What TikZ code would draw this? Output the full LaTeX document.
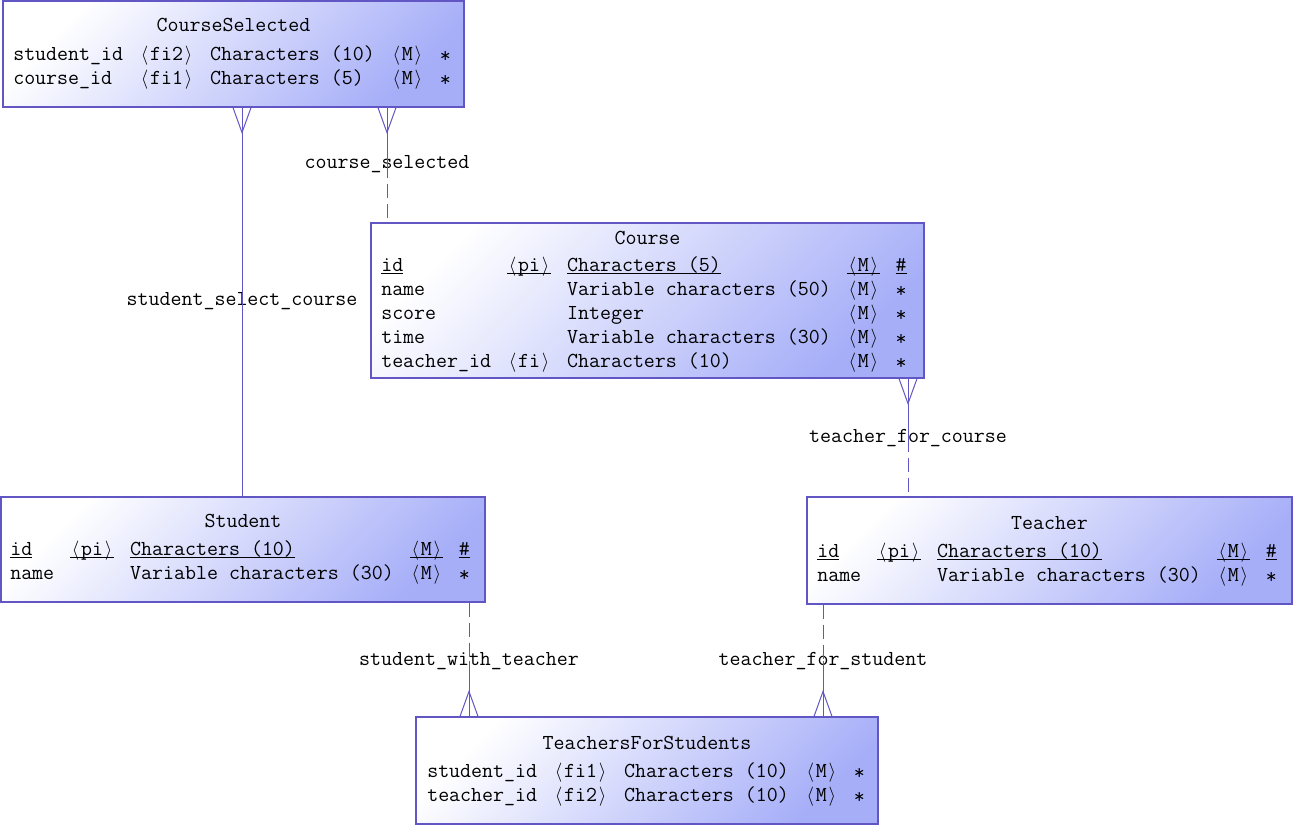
\documentclass[tikz,border=0pt]{standalone}
\usepackage{fontspec}
\usepackage{array}
\definecolor{erline}{RGB}{98,86,196}
\definecolor{erfill}{RGB}{166,174,248}
\setlength\tabcolsep{6pt}
\newcommand\onech[1]{\makebox[\fontcharwd\font`\M]{#1}}
\newcommand\flag[1]{\onech{\fontsize{15}{15}\selectfont$\langle$}#1\onech{\fontsize{15}{15}\selectfont$\rangle$}}
\newcommand\pkey[1]{\underline{\smash{#1}}}
\newcommand\req{\onech{\raisebox{-0.12em}{*}}}
\tikzset{
	entity/.style={draw=erline, line width=0.9pt, top color=white, bottom color=erfill, shading angle=45, inner sep=0pt},
	title/.style={anchor=base, inner sep=0pt, font=\fontsize{16}{18}\selectfont\ttfamily},
	cols/.style={anchor=base west, inner sep=0pt, font=\fontsize{16}{18}\selectfont\ttfamily},
	rel/.style={draw=erline, line width=0.75pt},
	optional/.style={rel, dash pattern=on 10.5pt off 4.5pt},
	rellabel/.style={anchor=base, inner sep=0pt, font=\fontsize{16}{18}\selectfont\ttfamily}
}

\begin{document}
\begin{tikzpicture}[x=0.75pt,y=-0.75pt]
				\useasboundingbox (0,0) rectangle (1294,826);
				\node[entity, minimum width=345.75pt, minimum height=79.5pt] (courseSel) at (233.5,54) {};
				\node[title] (courseSel-title) at (233.5,31) {CourseSelected};
				\node[cols] (courseSel-cols) at (13,60) {\begin{tabular}[t]{@{}lllll@{}}
						student\_id & \flag{fi2} & Characters (10) & \flag{M} & \req\\
						course\_id & \flag{fi1} & Characters (5) & \flag{M} & \req
					\end{tabular}};

				\node[entity, minimum width=414.75pt, minimum height=116.25pt] (course) at (647.5,300.5) {};
				\node[title] (course-title) at (647.5,244) {Course};
				\node[cols] (course-cols) at (381,271) {\begin{tabular}[t]{@{}lllll@{}}
						\pkey{id} & \pkey{\flag{pi}} & \pkey{Characters (5)} & \pkey{\flag{M}} & \pkey{\#}\\
						name & & Variable characters (50) & \flag{M} & \req\\
						score & & Integer & \flag{M} & \req\\
						time & & Variable characters (30) & \flag{M} & \req\\
						teacher\_id & \flag{fi} & Characters (10) & \flag{M} & \req
					\end{tabular}};

				\node[entity, minimum width=363pt, minimum height=78.75pt] (student) at (243,549.5) {};
				\node[title] (student-title) at (243,527) {Student};
				\node[cols] (student-cols) at (10,555) {\begin{tabular}[t]{@{}lllll@{}}
						\pkey{id} & \pkey{\flag{pi}} & \pkey{Characters (10)} & \pkey{\flag{M}} & \pkey{\#}\\
						name & & Variable characters (30) & \flag{M} & \req
					\end{tabular}};

				\node[entity, minimum width=363.75pt, minimum height=80.25pt] (teacher) at (1049.5,550.5) {};
				\node[title] (teacher-title) at (1049.5,529) {Teacher};
				\node[cols] (teacher-cols) at (817,557) {\begin{tabular}[t]{@{}lllll@{}}
						\pkey{id} & \pkey{\flag{pi}} & \pkey{Characters (10)} & \pkey{\flag{M}} & \pkey{\#}\\
						name & & Variable characters (30) & \flag{M} & \req
					\end{tabular}};

				\node[entity, minimum width=346.5pt, minimum height=80.25pt] (teachStu) at (647,770.5) {};
				\node[title] (teachStu-title) at (647,749) {TeachersForStudents};
				\node[cols] (teachStu-cols) at (427,777) {\begin{tabular}[t]{@{}lllll@{}}
						student\_id & \flag{fi1} & Characters (10) & \flag{M} & \req\\
						teacher\_id & \flag{fi2} & Characters (10) & \flag{M} & \req
					\end{tabular}};

				\node[rellabel] (ssc) at (242,305) {student\_select\_course};
				\node[rellabel] (csel) at (387,168) {course\_selected};
				\node[rellabel] (tfc) at (908,442) {teacher\_for\_course};
				\node[rellabel] (swt) at (469,665) {student\_with\_teacher};
				\node[rellabel] (tfs) at (823,665) {teacher\_for\_student};

				\coordinate (ssc-a) at (courseSel.south -| ssc);
				\coordinate (ssc-b) at (student.north -| ssc);
				\draw[rel] (ssc-a) -- (ssc-b);
				\draw[rel] (ssc-a) ++(-9,0) -- ++(9,25) -- ++(9,-25);

				\coordinate (csel-a) at (courseSel.south -| csel);
				\coordinate (csel-b) at (course.north -| csel);
				\draw[rel] (csel-a) -- (csel.center);
				\draw[optional] (csel.center) -- (csel-b);
				\draw[rel] (csel-a) ++(-9,0) -- ++(9,25) -- ++(9,-25);

				\coordinate (tfc-a) at (course.south -| tfc);
				\coordinate (tfc-b) at (teacher.north -| tfc);
				\draw[rel] (tfc-a) -- (tfc.center);
				\draw[optional] (tfc.center) -- (tfc-b);
				\draw[rel] (tfc-a) ++(-9,0) -- ++(9,25) -- ++(9,-25);

				\coordinate (swt-a) at (student.south -| swt);
				\coordinate (swt-b) at (teachStu.north -| swt);
				\draw[optional] (swt-a) -- (swt.center);
				\draw[rel] (swt.center) -- (swt-b);
				\draw[rel] (swt-b) ++(-9,0) -- ++(9,-25) -- ++(9,25);

				\coordinate (tfs-a) at (teacher.south -| tfs);
				\coordinate (tfs-b) at (teachStu.north -| tfs);
				\draw[optional] (tfs-a) -- (tfs.center);
				\draw[rel] (tfs.center) -- (tfs-b);
				\draw[rel] (tfs-b) ++(-9,0) -- ++(9,-25) -- ++(9,25);
			\end{tikzpicture}
\end{document}
